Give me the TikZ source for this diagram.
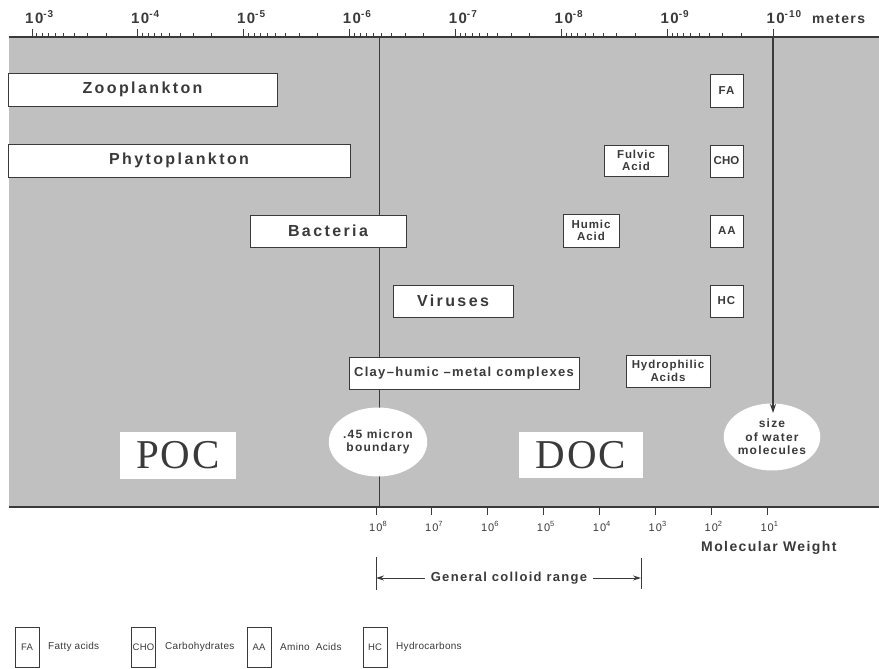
\documentclass[tikz,border=0pt]{standalone}
\usepackage{fontspec}
\setmainfont{Liberation Sans}
\newfontfamily\fwide[LetterSpace=15]{Liberation Sans}
\newfontfamily\fmed[LetterSpace=10]{Liberation Sans}
\newfontfamily\fsml[LetterSpace=8]{Liberation Sans}
\newfontfamily\fleg[LetterSpace=3]{Liberation Sans}
\newfontfamily\fser[LetterSpace=5]{Liberation Serif}
\usetikzlibrary{arrows.meta,shapes.geometric}
\definecolor{band}{RGB}{192,192,192}
\definecolor{ink}{RGB}{58,58,58}
\newcommand\tpow[3]{10\raisebox{#3}{\fontsize{#2}{#2}\selectfont #1}}
\begin{document}
\begin{tikzpicture}[x=1pt,y=-1pt,
  gbox/.style={draw=ink,fill=white,line width=0.9pt,inner sep=0pt,text=ink,font=\fwide\bfseries\fontsize{16}{17}\selectfont},
  sbox/.style={draw=ink,fill=white,line width=0.9pt,inner sep=0pt,text=ink,align=center,font=\fsml\bfseries\fontsize{11.5}{12.5}\selectfont},
  big/.style={fill=white,inner sep=0pt,text=ink,font=\fser\fontsize{41}{41}\selectfont},
  blob/.style={ellipse,fill=white,inner sep=0pt,text=ink,align=center,font=\fmed\bfseries\fontsize{12}{13.5}\selectfont},
  axlbl/.style={text=ink,inner sep=0pt,font=\fmed\bfseries\fontsize{15}{15}\selectfont},
  mwlbl/.style={text=ink,inner sep=0pt,font=\fmed\fontsize{11}{11}\selectfont},
  ttl/.style={text=ink,inner sep=0pt,font=\fmed\bfseries\fontsize{14}{14}\selectfont},
  legbox/.style={draw=ink,line width=0.8pt,minimum width=24pt,minimum height=40pt,inner sep=0pt,text=ink,font=\fleg\fontsize{9.5}{10}\selectfont},
  legtxt/.style={anchor=west,inner sep=0pt,text=ink,font=\fleg\fontsize{10}{10}\selectfont},
  tk/.style={ink,line width=0.9pt}
]
\useasboundingbox (0,0) rectangle (879,669);
\fill[white] (0,0) rectangle (879,669);
\fill[band] (9,37) rectangle (879,507);

% top axis
\coordinate (tl) at (9,37);
\coordinate (tr) at (879,37);
\draw[ink,line width=1.2pt] (tl) -- (tr);
\foreach \k in {0,...,6}{
  \foreach \m in {2,...,9}{
    \pgfmathsetmacro\xx{32+105.9*\k+105.9*(1-log10(\m))}
    \draw[tk] (\xx,33.5) -- (\xx,37);
  }}
\foreach \k/\e in {0/-3,1/-4,2/-5,3/-6,4/-7,5/-8,6/-9,7/-10}{
  \pgfmathsetmacro\xx{32+105.9*\k}
  \draw[tk] (\xx,29) -- (\xx,37);
  \node[axlbl,anchor=base west] (t\k) at (\xx-7,24) {\tpow{\e}{10}{6pt}};
}
\node[axlbl,anchor=base west,font=\fmed\bfseries\fontsize{14}{14}\selectfont] (meters) at (812,24) {meters};

% bottom axis
\coordinate (bl) at (9,507);
\coordinate (br) at (879,507);
\draw[ink,line width=1.4pt] (bl) -- (br);
\foreach \i/\e in {0/8,1/7,2/6,3/5,4/4,5/3,6/2,7/1}{
  \pgfmathsetmacro\xx{376+55.9*\i}
  \draw[tk] (\xx,507) -- (\xx,515);
  \node[mwlbl,anchor=base west] (m\i) at (\xx-7,531) {\tpow{\e}{7.5}{4.5pt}};
}
\node[ttl,anchor=base west] (mw) at (701,551) {Molecular Weight};

% 0.45 micron line
\coordinate (vt) at (379,37);
\coordinate (vb) at (379,507);
\draw[ink,line width=0.8pt] (vt) -- (vb);

% boxes
\node[gbox,minimum width=269pt,minimum height=33pt] (zoo) at (142.5,89.5) {Zooplankton};
\node[gbox,minimum width=342pt,minimum height=33pt] (phy) at (179,160.5) {Phytoplankton};
\node[gbox,minimum width=156pt,minimum height=32pt] (bac) at (328,231) {Bacteria};
\node[gbox,minimum width=120pt,minimum height=32pt] (vir) at (453,301) {Viruses};
\node[sbox,minimum width=230pt,minimum height=32pt,font=\fmed\bfseries\fontsize{13}{13}\selectfont] (clay) at (464,373) {Clay–humic –metal complexes};
\node[sbox,minimum width=84pt,minimum height=32pt] (hyd) at (668,371) {Hydrophilic\\Acids};
\node[sbox,minimum width=64pt,minimum height=31pt] (ful) at (636,160.5) {Fulvic\\Acid};
\node[sbox,minimum width=56pt,minimum height=33pt] (hum) at (591,230.5) {Humic\\Acid};
\node[sbox,minimum width=33pt,minimum height=33pt] (fa) at (726.5,90.5) {FA};
\node[sbox,minimum width=33pt,minimum height=32pt,font=\bfseries\fontsize{11.5}{11}\selectfont] (cho) at (726.5,161) {CHO};
\node[sbox,minimum width=33pt,minimum height=32pt] (aa) at (727,231) {AA};
\node[sbox,minimum width=33pt,minimum height=32pt] (hc) at (726.5,301) {HC};

\node[big,minimum width=116pt,minimum height=47pt] (poc) at (178,455.5) {POC};
\node[big,minimum width=124pt,minimum height=46pt] (doc) at (581,455) {DOC};

\node[blob,minimum width=85pt,minimum height=69pt] (bnd) at (378,442) {.45 micron\\boundary};
\node[blob,minimum width=89pt,minimum height=67pt] (water) at (772,437) {size\\of water\\molecules};

% water arrow
\coordinate (at) at (773,37);
\coordinate (ab) at (773,413);
\draw[ink,line width=1.4pt,-{Stealth[length=9pt,width=6pt]}] (at) -- (ab);

% colloid range
\coordinate (cl) at (376,578);
\coordinate (cr) at (641,578);
\draw[tk] (376,557) -- (376,590);
\draw[tk] (641,558) -- (641,589);
\node[ttl,font=\fmed\bfseries\fontsize{13}{13}\selectfont,inner xsep=6pt] (gcr) at (509,578) {General colloid range};
\draw[tk,-{Stealth[length=8pt,width=5pt]}] (gcr.west) -- (cl);
\draw[tk,-{Stealth[length=8pt,width=5pt]}] (gcr.east) -- (cr);

% legend
\node[legbox] (lfa) at (27,647) {FA};
\node[legtxt] (tfa) at (48,647) {Fatty acids};
\node[legbox] (lcho) at (143.5,647) {CHO};
\node[legtxt] (tcho) at (165,647) {Carbohydrates};
\node[legbox] (laa) at (259,647) {AA};
\node[legtxt] (taa) at (280,647) {Amino\ \ Acids};
\node[legbox] (lhc) at (375,647) {HC};
\node[legtxt] (thc) at (396,647) {Hydrocarbons};
\end{tikzpicture}
\end{document}
